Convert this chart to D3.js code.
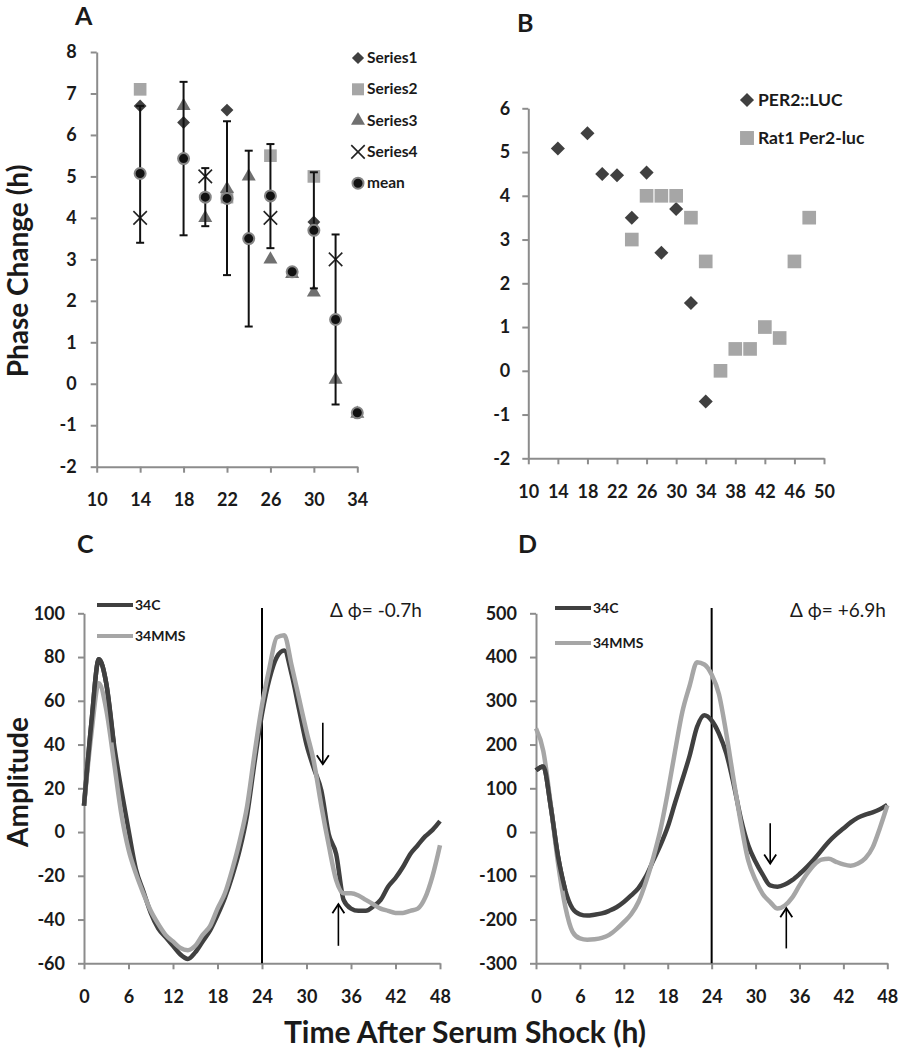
<!DOCTYPE html>
<html>
<head>
<meta charset="utf-8">
<script src="https://cdn.jsdelivr.net/npm/d3@7"></script>
<style>
body { margin: 0; background: #fff; }
text { font-family: Lato, "Open Sans", sans-serif; fill: #1a1a1a; }
</style>
</head>
<body>
<svg id="chart" width="905" height="1050"></svg>
<script>
// ---- panel A : phase change per series ----
var aTicksX = [10, 14, 18, 22, 26, 30, 34];
var aTicksY = [-2, -1, 0, 1, 2, 3, 4, 5, 6, 7, 8];
var series1 = [[14, 6.7], [18, 6.3], [22, 6.6], [30, 3.9]];
var series2 = [[14, 7.1], [22, 4.5], [26, 5.5], [30, 5.0]];
var series3 = [[18, 6.7], [20, 4.0], [22, 4.7], [24, 5.0], [26, 3.0], [28, 2.65], [30, 2.2], [32, 0.1], [34, -0.72]];
var series4 = [[14, 4.0], [20, 5.0], [26, 4.0], [32, 3.0]];
var meanX    = [14, 18, 20, 22, 24, 26, 28, 30, 32, 34];
var meanY    = [5.07, 5.43, 4.5, 4.47, 3.5, 4.53, 2.7, 3.7, 1.55, -0.7];
var errLow   = [3.4, 3.58, 3.8, 2.62, 1.38, 3.27, 2.7, 2.3, -0.5, -0.7];
var errHigh  = [6.7, 7.28, 5.2, 6.33, 5.62, 5.78, 2.7, 5.1, 3.6, -0.7];
var aLegend  = ["Series1", "Series2", "Series3", "Series4", "mean"];

// ---- panel B : two reporters ----
var bTicksX = [10, 14, 18, 22, 26, 30, 34, 38, 42, 46, 50];
var bTicksY = [-2, -1, 0, 1, 2, 3, 4, 5, 6];
var per2luc = [[14, 5.08], [18, 5.43], [20, 4.5], [22, 4.47], [24, 3.5], [26, 4.53], [28, 2.7], [30, 3.7], [32, 1.55], [34, -0.7]];
var rat1    = [[24, 3.0], [26, 4.0], [28, 4.0], [30, 4.0], [32, 3.5], [34, 2.5], [36, 0.0], [38, 0.5], [40, 0.5], [42, 1.0], [44, 0.75], [46, 2.5], [48, 3.5]];
var bLegend = ["PER2::LUC", "Rat1 Per2-luc"];

// ---- panels C and D : bioluminescence traces ----
var hours = d3.range(0, 49);
var timeTicks = [0, 6, 12, 18, 24, 30, 36, 42, 48];
var cTicksY = [-60, -40, -20, 0, 20, 40, 60, 80, 100];
var dTicksY = [-300, -200, -100, 0, 100, 200, 300, 400, 500];
var c34C = [12, 50, 79, 68, 41, 20, 1, -17, -27, -37, -44, -48, -52, -56, -58, -55, -50, -45, -38, -30,
            -20, -8, 8, 32, 54, 70, 80, 83, 72, 56, 40, 29, 19, -1, -10, -31, -35, -36, -36, -34,
            -31, -25, -21, -16, -10, -6, -2, 1, 5];
var c34MMS = [12, 45, 68, 56, 33, 9, -8, -19, -28, -36, -42, -47, -50, -53, -54, -52, -47, -43, -35, -28,
              -17, -4, 12, 36, 58, 75, 89, 90, 76, 61, 46, 32, 12, -6, -22, -28, -28, -29, -31, -33,
              -35, -36, -37, -37, -36, -35, -30, -20, -6];
var d34C = [141, 150, 60, -55, -133, -175, -188, -191, -189, -186, -180, -172, -160, -145, -128, -102, -66, -30, 12, 67,
            120, 175, 240, 267, 255, 225, 180, 110, 30, -30, -68, -98, -122, -125, -120, -110, -96, -80, -62, -42,
            -22, -6, 8, 22, 33, 40, 45, 52, 62];
var d34MMS = [237, 185, 65, -70, -170, -228, -243, -246, -245, -242, -235, -222, -206, -188, -160, -115, -60, 5, 90, 185,
              275, 335, 388, 383, 360, 315, 225, 120, 20, -65, -110, -142, -160, -175, -168, -150, -122, -96, -75, -63,
              -61, -68, -74, -77, -72, -60, -35, 10, 61];
var traceNames = ["34C", "34MMS"];
var cArrows = [[32.2, 50, 31], [34.3, -52, -33]];
var dArrows = [[32.0, 20, -72], [34.2, -266, -174]];

var DARK = "#404040", LIGHT = "#a6a6a6", MID = "#707070", AXIS = "#8c8c8c";

var svg = d3.select("#chart");

function styleAxis(g, size) {
    g.select(".domain").attr("stroke", AXIS).attr("stroke-width", 2);
    g.selectAll(".tick line").attr("stroke", AXIS).attr("stroke-width", 2);
    g.selectAll(".tick text")
        .attr("fill", "#1a1a1a")
        .style("font-size", size + "px")
        .style("font-weight", "bold")
        .style("font-family", "Lato, sans-serif");
}

function drawAxes(x, y, xt, yt, ypad) {
    svg.append("g")
        .attr("transform", "translate(0," + y.range()[0] + ")")
        .call(d3.axisBottom(x).tickValues(xt).tickSize(6).tickSizeOuter(0).tickPadding(21).tickFormat(String))
        .call(styleAxis, 18);
    svg.append("g")
        .attr("transform", "translate(" + x.range()[0] + ",0)")
        .call(d3.axisLeft(y).tickValues(yt).tickSize(6).tickSizeOuter(0).tickPadding(ypad).tickFormat(String))
        .call(styleAxis, 18);
}

function panelLabel(txt, x, y) {
    svg.append("text").attr("x", x).attr("y", y).text(txt)
        .style("font-size", "25px").style("font-weight", "bold");
}

// marker drawing
function mark(g, type, cx, cy, k) {
    k = k || 1;
    if (type === "diamond") {
        g.append("path").attr("d", d3.symbol(d3.symbolSquare, 82 * k * k)())
            .attr("transform", "translate(" + cx + "," + cy + ") rotate(45)").attr("fill", DARK);
    } else if (type === "square") {
        g.append("path").attr("d", d3.symbol(d3.symbolSquare, 160 * k * k)())
            .attr("transform", "translate(" + cx + "," + cy + ")").attr("fill", LIGHT);
    } else if (type === "triangle") {
        g.append("path").attr("d", d3.symbol(d3.symbolTriangle, 85)())
            .attr("transform", "translate(" + cx + "," + cy + ")").attr("fill", MID);
    } else if (type === "times") {
        g.append("path").attr("d", d3.symbol(d3.symbolTimes, 120)())
            .attr("transform", "translate(" + cx + "," + cy + ")")
            .attr("fill", "none").attr("stroke", "#222").attr("stroke-width", 1.6);
    } else if (type === "mean") {
        g.append("circle").attr("cx", cx).attr("cy", cy).attr("r", 5.5)
            .attr("fill", "#111").attr("stroke", "#858585").attr("stroke-width", 2);
    }
}

// ================= Panel A =================
(function () {
    var x = d3.scaleLinear().domain([10, 34]).range([96.7, 357.3]);
    var y = d3.scaleLinear().domain([-2, 8]).range([466.7, 52]);
    drawAxes(x, y, aTicksX, aTicksY, 14);
    panelLabel("A", 75, 25);

    svg.append("text")
        .attr("transform", "translate(28,271) rotate(-90)")
        .attr("text-anchor", "middle")
        .text("Phase Change (h)")
        .style("font-size", "28px").style("font-weight", "bold");

    var g = svg.append("g");
    series1.forEach(function (d) { mark(g, "diamond", x(d[0]), y(d[1])); });
    series2.forEach(function (d) { mark(g, "square", x(d[0]), y(d[1])); });
    series3.forEach(function (d) { mark(g, "triangle", x(d[0]), y(d[1])); });
    series4.forEach(function (d) { mark(g, "times", x(d[0]), y(d[1])); });

    // error bars on mean
    meanX.forEach(function (mx, i) {
        if (errHigh[i] === errLow[i]) return;
        var px = x(mx);
        g.append("line").attr("x1", px).attr("x2", px).attr("y1", y(errLow[i])).attr("y2", y(errHigh[i]))
            .attr("stroke", "#111").attr("stroke-width", 2);
        [errLow[i], errHigh[i]].forEach(function (v) {
            g.append("line").attr("x1", px - 4).attr("x2", px + 4).attr("y1", y(v)).attr("y2", y(v))
                .attr("stroke", "#111").attr("stroke-width", 2);
        });
    });
    meanX.forEach(function (mx, i) { mark(g, "mean", x(mx), y(meanY[i])); });

    // legend
    var types = ["diamond", "square", "triangle", "times", "mean"];
    var lg = svg.append("g");
    aLegend.forEach(function (name, i) {
        var cy = 58 + i * 31.3;
        mark(lg, types[i], 358, cy, 0.95);
        lg.append("text").attr("x", 367).attr("y", cy + 5).text(name)
            .style("font-size", "15.5px").style("font-weight", "bold");
    });
})();

// ================= Panel B =================
(function () {
    var x = d3.scaleLinear().domain([10, 50]).range([528.3, 824]);
    var y = d3.scaleLinear().domain([-2, 6]).range([458.3, 108.3]);
    drawAxes(x, y, bTicksX, bTicksY, 12);
    panelLabel("B", 517, 32);

    var g = svg.append("g");
    per2luc.forEach(function (d) { mark(g, "diamond", x(d[0]), y(d[1]), 1.1); });
    rat1.forEach(function (d) { mark(g, "square", x(d[0]), y(d[1]), 1.08); });

    var types = ["diamond", "square"];
    bLegend.forEach(function (name, i) {
        var cy = 100 + i * 38;
        mark(g, types[i], 747, cy, 1.1);
        g.append("text").attr("x", 758).attr("y", cy + 6).text(name)
            .style("font-size", "17.5px").style("font-weight", "bold");
    });
})();

// ================= Panels C and D =================
function tracePanel(opts) {
    var x = d3.scaleLinear().domain([0, 48]).range(opts.xr);
    var y = d3.scaleLinear().domain(opts.yd).range([963.3, 613.3]);
    drawAxes(x, y, timeTicks, opts.yt, 13);
    panelLabel(opts.label, opts.lx, 553);

    // 24h marker line
    svg.append("line").attr("x1", x(24)).attr("x2", x(24)).attr("y1", 608).attr("y2", y.range()[0])
        .attr("stroke", "#000").attr("stroke-width", 2);

    var line = d3.line().x(function (d, i) { return x(hours[i]); }).y(function (d) { return y(d); })
        .curve(d3.curveMonotoneX);
    svg.append("path").datum(opts.dark).attr("d", line)
        .attr("fill", "none").attr("stroke", DARK).attr("stroke-width", 4.5).attr("stroke-linejoin", "round");
    svg.append("path").datum(opts.light).attr("d", line)
        .attr("fill", "none").attr("stroke", LIGHT).attr("stroke-width", 4.5).attr("stroke-linejoin", "round");
    // dark drawn over the light where they overlap in the first cycle
    svg.append("path").datum(opts.dark.slice(0, 5)).attr("d", line)
        .attr("fill", "none").attr("stroke", DARK).attr("stroke-width", 4.5).attr("stroke-linejoin", "round");

    // legend
    [DARK, LIGHT].forEach(function (col, i) {
        var ly = opts.legY + i * opts.legGap;
        svg.append("line").attr("x1", opts.legX).attr("x2", opts.legX + 36).attr("y1", ly).attr("y2", ly)
            .attr("stroke", col).attr("stroke-width", 4);
        svg.append("text").attr("x", opts.legX + 38).attr("y", ly + 5).text(traceNames[i])
            .style("font-size", "14px").style("font-weight", "bold");
    });

    svg.append("text").attr("x", opts.phX).attr("y", 617).text(opts.phase)
        .style("font-size", "19px");

    // arrows
    opts.arrows.forEach(function (a) {
        var px = x(a[0]), y1 = y(a[1]), y2 = y(a[2]);
        var dir = y2 > y1 ? -1 : 1;
        svg.append("line").attr("x1", px).attr("x2", px).attr("y1", y1).attr("y2", y2)
            .attr("stroke", "#000").attr("stroke-width", 1.6);
        svg.append("path")
            .attr("d", "M" + (px - 6) + "," + (y2 + dir * 9) + "L" + px + "," + y2 + "L" + (px + 6) + "," + (y2 + dir * 9))
            .attr("fill", "none").attr("stroke", "#000").attr("stroke-width", 1.8);
    });
}

tracePanel({ xr: [84, 440], yd: [-60, 100], yt: cTicksY, label: "C", lx: 77,
    dark: c34C, light: c34MMS, legX: 97, legY: 605, legGap: 31, phX: 330, phase: "\u0394 \u03D5= -0.7h", arrows: cArrows });
tracePanel({ xr: [536, 887.3], yd: [-300, 500], yt: dTicksY, label: "D", lx: 518,
    dark: d34C, light: d34MMS, legX: 555, legY: 608, legGap: 35, phX: 790, phase: "\u0394 \u03D5= +6.9h", arrows: dArrows });

svg.append("text")
    .attr("transform", "translate(28,782) rotate(-90)")
    .attr("text-anchor", "middle")
    .text("Amplitude")
    .style("font-size", "28px").style("font-weight", "bold");

svg.append("text")
    .attr("x", 465).attr("y", 1043)
    .attr("text-anchor", "middle")
    .text("Time After Serum Shock (h)")
    .style("font-size", "30px").style("font-weight", "bold");
</script>
</body>
</html>
